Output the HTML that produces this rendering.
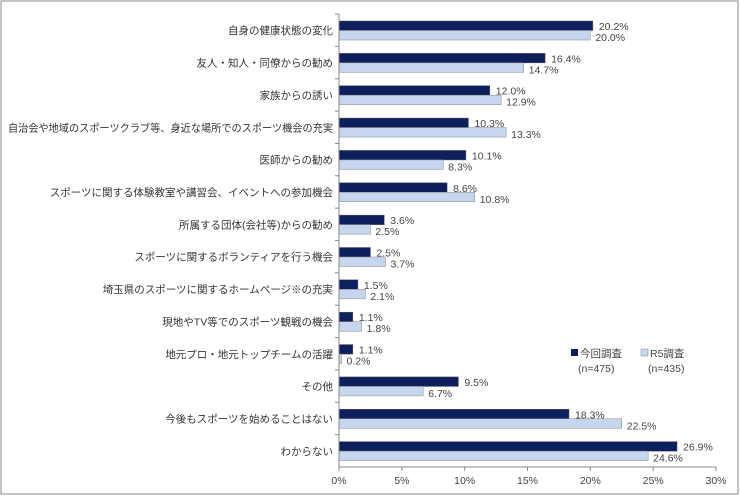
<!DOCTYPE html>
<html><head><meta charset="utf-8"><style>
body{margin:0;background:#fff;}
svg{display:block;font-family:"Liberation Sans","Noto Sans CJK JP",sans-serif;}
</style></head><body>
<svg id="c" width="740" height="496">
<rect x="1" y="1" width="737" height="493" fill="#fff" stroke="#888"/>
</svg>
<script>
const categories=["自身の健康状態の変化","友人・知人・同僚からの勧め","家族からの誘い","自治会や地域のスポーツクラブ等、身近な場所でのスポーツ機会の充実","医師からの勧め","スポーツに関する体験教室や講習会、イベントへの参加機会","所属する団体(会社等)からの勧め","スポーツに関するボランティアを行う機会","埼玉県のスポーツに関するホームページ※の充実","現地やTV等でのスポーツ観戦の機会","地元プロ・地元トップチームの活躍","その他","今後もスポーツを始めることはない","わからない"];
const currentValues=[20.2,16.4,12.0,10.3,10.1,8.6,3.6,2.5,1.5,1.1,1.1,9.5,18.3,26.9];
const r5Values=[20.0,14.7,12.9,13.3,8.3,10.8,2.5,3.7,2.1,1.8,0.2,6.7,22.5,24.6];
const xTicks=[0,5,10,15,20,25,30];
const svg=document.getElementById('c');const NS='http://www.w3.org/2000/svg';
const X0=339,X1=716,Y0=14,Y1=467;
const xs=v=>X0+(v/30)*(X1-X0);
const band=(Y1-Y0)/categories.length;
function mk(t,a,txt){const e=document.createElementNS(NS,t);for(const k in a)e.setAttribute(k,a[k]);if(txt!=null)e.textContent=txt;svg.appendChild(e);return e;}
categories.forEach((c,i)=>{
 const top=Y0+i*band;
 let t=mk('text',{x:333,y:top+band/2+4,'text-anchor':'end','font-size':10.5,fill:'#333'},c);
 
 
 if(t.getComputedTextLength()>325){t.setAttribute('textLength',325);t.setAttribute('lengthAdjust','spacingAndGlyphs');}
 let b=mk('rect',{x:X0,y:top+7,width:xs(currentValues[i])-X0,height:9.5,fill:'#0d1f5c',stroke:'#555','stroke-width':0.5});
 
 
 let b2=mk('rect',{x:X0,y:top+16.5,width:xs(r5Values[i])-X0,height:9.5,fill:'#c6d6ee',stroke:'#888','stroke-width':0.5});
 
 
 let l=mk('text',{x:xs(currentValues[i])+6,y:top+16,'font-size':10.5,fill:'#444'},currentValues[i].toFixed(1)+'%');
 
 
 let l2=mk('text',{x:xs(r5Values[i])+5,y:top+27,'font-size':10.5,fill:'#444'},r5Values[i].toFixed(1)+'%');
 
 
 mk('line',{x1:X0-4,x2:X0,y1:top,y2:top,stroke:'#888'});
});
mk('line',{x1:X0,x2:X0,y1:Y0,y2:Y1,stroke:'#888'});
mk('line',{x1:X0,x2:X1,y1:Y1,y2:Y1,stroke:'#888'});
xTicks.forEach(v=>{
 mk('line',{x1:xs(v),x2:xs(v),y1:Y1,y2:Y1+4,stroke:'#888'});
 let t=mk('text',{x:xs(v),y:Y1+17,'text-anchor':'middle','font-size':10.5,fill:'#444'},v+'%');
 
 
});
</script>
<svg style="position:absolute;left:0;top:0" width="740" height="496">
<g font-family="Liberation Sans, Noto Sans CJK JP, sans-serif" font-size="10.5" fill="#444">
<rect x="571" y="349" width="7" height="7" fill="#0d1f5c"/>
<text x="580" y="357">今回調査</text>
<text x="578" y="372">(n=475)</text>
<rect x="641" y="349" width="7" height="7" fill="#c6d6ee" stroke="#888" stroke-width="0.5"/>
<text x="650" y="357">R5調査</text>
<text x="648" y="372">(n=435)</text>
</g>
</svg>
</body></html>
